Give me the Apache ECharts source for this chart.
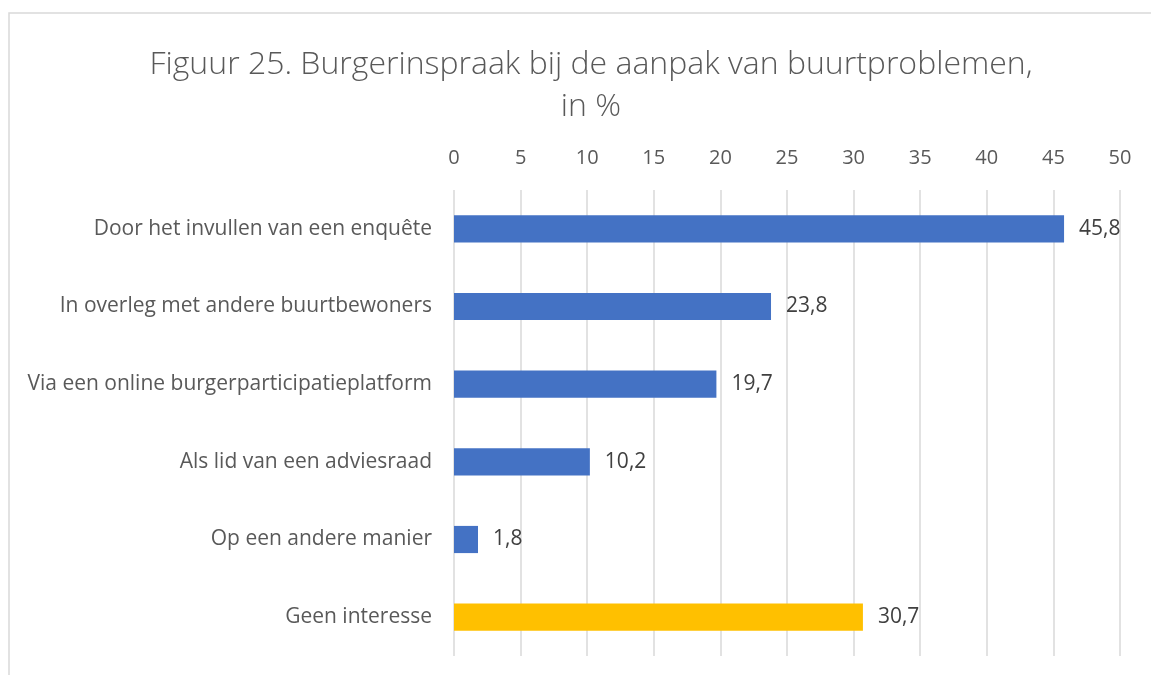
<!DOCTYPE html>
<html>
<head>
<meta charset="utf-8">
<script src="https://cdn.jsdelivr.net/npm/echarts@6/dist/echarts.min.js"></script>
<style>
  html, body { margin: 0; padding: 0; background: #fff; }
  #main { width: 1151px; height: 675px; }
</style>
</head>
<body>
<div id="main"></div>
<script>
// data
const categories = [
  'Door het invullen van een enquête',
  'In overleg met andere buurtbewoners',
  'Via een online burgerparticipatieplatform',
  'Als lid van een adviesraad',
  'Op een andere manier',
  'Geen interesse'
];
const values = [45.8, 23.8, 19.7, 10.2, 1.8, 30.7];
const barColors = ['#4472C4', '#4472C4', '#4472C4', '#4472C4', '#4472C4', '#FFC000'];
const xTicks = [0, 50, 5]; // min, max, interval

let chart = echarts.init(document.getElementById('main'));

let option = {
  animation: false,
  title: {
    text: 'Figuur 25. Burgerinspraak bij de aanpak van buurtproblemen,\nin %',
    left: 586,
    top: 39,
    textAlign: 'center',
    textStyle: {
      fontFamily: 'Open Sans',
      fontWeight: 300,
      fontSize: 32,
      lineHeight: 42,
      color: '#595959'
    }
  },
  graphic: [
    {
      type: 'rect',
      shape: { x: 9, y: 13, width: 1200, height: 700 },
      style: { fill: 'none', stroke: '#d9d9d9', lineWidth: 1.5 },
      silent: true
    }
  ],
  grid: {
    left: 454,
    right: 31,
    top: 190,
    bottom: 19,
    containLabel: false
  },
  xAxis: {
    type: 'value',
    position: 'top',
    min: xTicks[0],
    max: xTicks[1],
    interval: xTicks[2],
    axisLine: { show: false },
    axisTick: { show: false },
    axisLabel: {
      margin: 22,
      fontFamily: 'Open Sans',
      fontSize: 20,
      color: '#595959'
    },
    splitLine: { lineStyle: { color: '#d9d9d9', width: 1.5 } }
  },
  yAxis: {
    type: 'category',
    inverse: true,
    data: categories,
    axisLine: { show: false },
    axisTick: { show: false },
    axisLabel: {
      margin: 22,
      fontFamily: 'Open Sans',
      fontSize: 21,
      color: '#595959'
    }
  },
  series: [
    {
      type: 'bar',
      data: values.map((v, i) => ({ value: v, itemStyle: { color: barColors[i] } })),
      barCategoryGap: '65%',
      label: {
        show: true,
        position: 'right',
        distance: 15,
        fontFamily: 'Open Sans',
        fontSize: 21,
        color: '#404040',
        formatter: (p) => p.value.toFixed(1).replace('.', ',')
      }
    }
  ]
};

chart.setOption(option, true);
window.addEventListener('resize', function () {
  chart.resize();
});
</script>
</body>
</html>
